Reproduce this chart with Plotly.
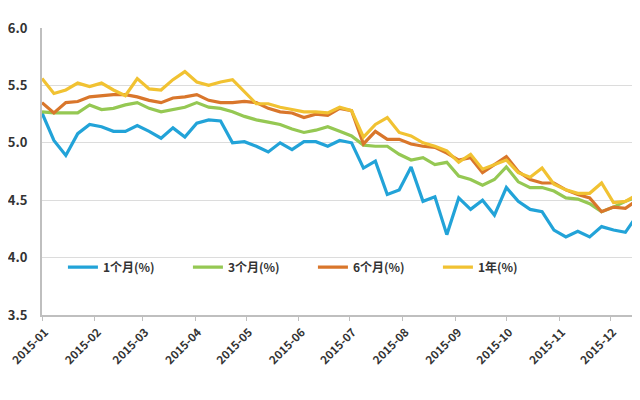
import datetime as dt
import plotly.graph_objects as go

start = dt.date(2015, 1, 1)
dates = [start + dt.timedelta(days=7 * i) for i in range(51)]

m1 = [5.26, 5.02, 4.89, 5.08, 5.16, 5.14, 5.10, 5.10, 5.15, 5.10,
      5.04, 5.13, 5.05, 5.17, 5.20, 5.19, 5.00, 5.01, 4.97, 4.92,
      5.00, 4.94, 5.01, 5.01, 4.97, 5.02, 5.00, 4.78, 4.84, 4.55,
      4.59, 4.79, 4.49, 4.53, 4.20, 4.52, 4.42, 4.50, 4.37, 4.61,
      4.49, 4.42, 4.40, 4.24, 4.18, 4.23, 4.18, 4.27, 4.24, 4.22,
      4.37]
m3 = [5.27, 5.26, 5.26, 5.26, 5.33, 5.29, 5.30, 5.33, 5.35, 5.30,
      5.27, 5.29, 5.31, 5.35, 5.31, 5.30, 5.27, 5.23, 5.20, 5.18,
      5.16, 5.12, 5.09, 5.11, 5.14, 5.10, 5.06, 4.98, 4.97, 4.97,
      4.90, 4.85, 4.87, 4.81, 4.83, 4.71, 4.68, 4.63, 4.68, 4.79,
      4.66, 4.61, 4.61, 4.58, 4.52, 4.51, 4.47, 4.40, 4.44, 4.49,
      4.53]
m6 = [5.35, 5.26, 5.35, 5.36, 5.40, 5.41, 5.42, 5.42, 5.40, 5.37,
      5.35, 5.39, 5.40, 5.42, 5.37, 5.35, 5.35, 5.36, 5.35, 5.30,
      5.27, 5.26, 5.22, 5.25, 5.24, 5.30, 5.28, 4.99, 5.10, 5.03,
      5.03, 4.99, 4.97, 4.96, 4.91, 4.85, 4.87, 4.74, 4.81, 4.88,
      4.75, 4.68, 4.65, 4.65, 4.59, 4.55, 4.52, 4.40, 4.44, 4.43,
      4.50]
y1 = [5.56, 5.43, 5.46, 5.52, 5.49, 5.52, 5.46, 5.41, 5.56, 5.47,
      5.46, 5.55, 5.62, 5.53, 5.50, 5.53, 5.55, 5.44, 5.34, 5.34,
      5.31, 5.29, 5.27, 5.27, 5.26, 5.31, 5.28, 5.05, 5.16, 5.22,
      5.09, 5.06, 5.00, 4.97, 4.93, 4.83, 4.90, 4.77, 4.81, 4.85,
      4.74, 4.70, 4.78, 4.64, 4.59, 4.56, 4.56, 4.65, 4.48, 4.49,
      4.55]

series = [
    ("1个月(%)", m1, "#22a3d8"),
    ("3个月(%)", m3, "#95c853"),
    ("6个月(%)", m6, "#d9762b"),
    ("1年(%)", y1, "#f1c232"),
]

tick_vals = [dt.date(2015, m, 1) for m in range(1, 13)]
tick_text = [f"2015-{m:02d}" for m in range(1, 13)]

fig = go.Figure()
for name, vals, color in series:
    fig.add_trace(go.Scatter(x=dates, y=vals, name=name, mode="lines",
                             line=dict(color=color, width=3.2)))

fig.update_layout(
    width=632, height=392,
    margin=dict(l=34, r=0, t=20, b=85),
    paper_bgcolor="white", plot_bgcolor="white",
    font=dict(family="Noto Sans CJK SC, Noto Sans, sans-serif", size=12, color="#333333"),
    showlegend=True,
    legend=dict(orientation="h", x=0.035, y=0.167, yanchor="middle", xanchor="left",
                entrywidth=80, entrywidthmode="pixels",
                bgcolor="rgba(0,0,0,0)",
                font=dict(size=12, color="#333333", weight=600)),
)
fig.update_xaxes(
    range=[dt.datetime(2015, 1, 1), dt.datetime(2015, 12, 18, 14)],
    tickmode="array", tickvals=tick_vals, ticktext=tick_text, tickangle=-45,
    showgrid=False, showline=True, linecolor="#bfbfbf", linewidth=2,
    ticks="outside", tickcolor="#bfbfbf", ticklen=4, automargin=False,
    ticklabeloverflow="allow", ticklabelshift=3,
    tickfont=dict(size=11.5, color="#333333", weight=600),
)
fig.update_yaxes(
    range=[3.5, 6.0], tickvals=[3.5, 4.0, 4.5, 5.0, 5.5, 6.0],
    ticktext=["3.5", "4.0", "4.5", "5.0", "5.5", "6.0"],
    showgrid=True, gridcolor="#dcdcdc", gridwidth=1, automargin=False,
    showline=True, linecolor="#bfbfbf", linewidth=2, zeroline=False,
    ticklabeloverflow="allow", ticklabelstandoff=10,
    tickfont=dict(size=13, color="#333333", weight=600), ticks="",
)

fig.write_html("out.html")
